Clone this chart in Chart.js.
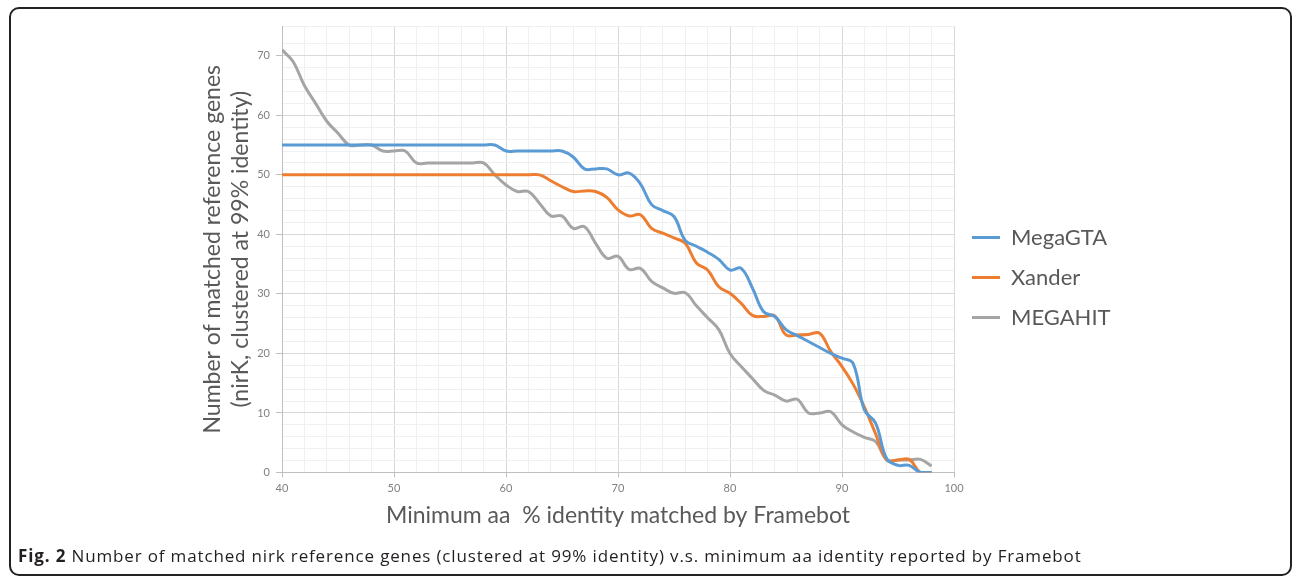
<!DOCTYPE html>
<html><head><meta charset="utf-8">
<script src="https://cdn.jsdelivr.net/npm/chart.js@4/dist/chart.umd.min.js"></script>
<style>
html,body{margin:0;padding:0;background:#fff;}
#wrap{position:relative;width:1292px;height:576px;overflow:hidden;background:#fff;}
#frame{position:absolute;left:9px;top:7px;width:1283px;height:569px;box-sizing:border-box;border:2px solid #222;border-radius:10px;}
#c{position:absolute;left:0;top:0;}
#cap{position:absolute;left:18px;top:546px;font-family:'Open Sans',sans-serif;font-size:17px;letter-spacing:0.85px;line-height:20px;color:#231f20;white-space:nowrap;}
</style></head><body>
<div id="wrap"><div id="frame"></div><canvas id="c" width="1292" height="576"></canvas>
<div id="cap"><b>Fig. 2</b> Number of matched nirk reference genes (clustered at 99% identity) v.s. minimum aa identity reported by Framebot</div></div>
<script>
const identity = [40,41,42,43,44,45,46,47,48,49,50,51,52,53,54,55,56,57,58,59,60,61,62,63,64,65,66,67,68,69,70,71,72,73,74,75,76,77,78,79,80,81,82,83,84,85,86,87,88,89,90,91,92,93,94,95,96,97,98];
const megaGTA = [55,55,55,55,55,55,55,55,55,55, 55,55,55,55,55,55,55,55,55,55, 54,54,54,54,54,54,53,51,51,51, 50,50.3,48.5,45,44,43,39,38,37,35.8, 34,34.3,31,27,26.2,24,23,22,21,20, 19.2,18.3,10.5,8.3,2.3,1.2,1.2,0,0];
const xander = [50,50,50,50,50,50,50,50,50,50, 50,50,50,50,50,50,50,50,50,50, 50,50,50,50,49,48,47.2,47.3,47.2,46.2, 44.1,43.1,43.3,41,40.2,39.4,38.5,35.2,34,31.2, 30.1,28.4,26.4,26.2,26.3,23.1,23.1,23.2,23.4,20.3, 17.8,14.8,11,6.5,2.1,2.1,2.2,0,0];
const megahit = [71,69,65,62,59,57,55,55,55,54, 54,54,52,52,52,52,52,52,52,50, 48.3,47.2,47.2,45.2,43.1,43.1,41,41.3,38.5,36, 36.3,34.1,34.3,32.1,31,30.1,30.2,28,26,24, 20,17.8,15.8,13.8,13,12,12.3,10,10,10.2, 8,6.8,5.9,5.2,2.1,2.1,2.1,2.2,1.1];
const seriesNames = ['MegaGTA','Xander','MEGAHIT'];
const xTickLabels = [40,50,60,70,80,90,100];
const yTickLabels = [0,10,20,30,40,50,60,70];

Chart.defaults.font.family = "Lato, 'Open Sans', sans-serif";
const toPts = ys => identity.map((x,i)=>({x:x, y:ys[i]}));
const colors = ['#5B9BD5','#ED7D31','#A5A5A5'];
const mk = (i, ys) => ({label:seriesNames[i], data:toPts(ys), borderColor:colors[i], backgroundColor:colors[i], borderWidth:3, pointRadius:0, pointHoverRadius:0, tension:0.4, fill:false});
const major = '#d9d9d9', minor = '#f0f0f0', axisCol = '#bfbfbf';

const chart = new Chart(document.getElementById('c'), {
  type:'line',
  data:{datasets:[mk(0,megaGTA), mk(1,xander), mk(2,megahit)]},
  options:{
    responsive:false, animation:false, devicePixelRatio:1,
    layout:{padding:{left:199, top:26, bottom:47, right:180}},
    plugins:{
      legend:{position:'right', labels:{usePointStyle:true, pointStyle:'line', pointStyleWidth:28, padding:18, color:'#595959', font:{size:22}}},
      tooltip:{enabled:false}
    },
    scales:{
      x:{type:'linear', min:40, max:100,
        afterFit:s=>{s.height=56.5;},
        ticks:{stepSize:2, autoSkip:false, maxRotation:0, padding:4, color:'#808080', font:{size:11},
          callback:v=> xTickLabels.includes(v) ? String(v) : ''},
        grid:{color:c=> xTickLabels.includes(c.tick.value) ? major : minor, tickLength:5,
          tickColor:c=> xTickLabels.includes(c.tick.value) ? axisCol : 'rgba(0,0,0,0)'},
        border:{color:axisCol, width:1},
        title:{display:true, text:'Minimum aa  % identity matched by Framebot', color:'#595959', font:{size:23}, padding:0}
      },
      y:{type:'linear', min:0, max:75,
        afterFit:s=>{s.width=83;},
        ticks:{stepSize:2, autoSkip:false, padding:6, color:'#808080', font:{size:11},
          callback:v=> yTickLabels.includes(v) ? String(v) : ''},
        grid:{color:c=> yTickLabels.includes(c.tick.value) ? major : minor, tickLength:6,
          tickColor:c=> yTickLabels.includes(c.tick.value) ? axisCol : 'rgba(0,0,0,0)'},
        border:{color:axisCol, width:1},
        title:{display:true, text:['Number of matched reference genes','(nirK, clustered at 99% identity)'], color:'#595959', font:{size:23}, padding:0}
      }
    }
  }
});
const dx = 954 - chart.chartArea.right;
chart.options.layout.padding.right -= dx;
chart.update();
</script>
</body></html>
